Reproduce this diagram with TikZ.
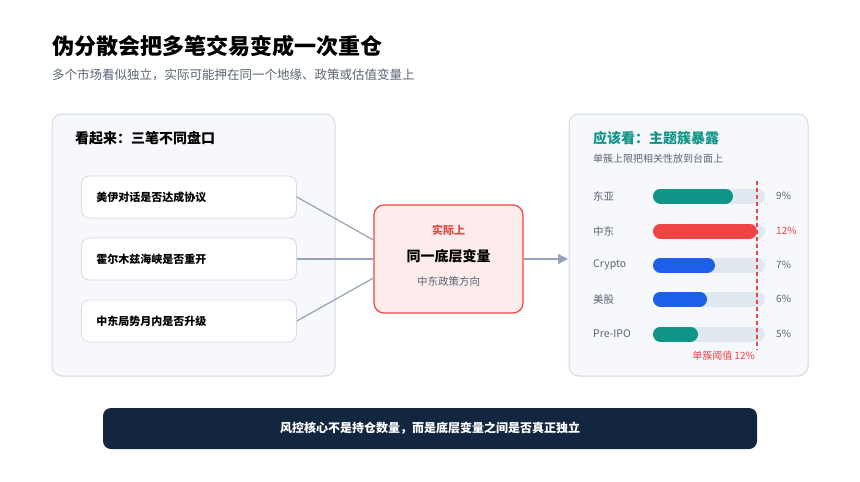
\documentclass[tikz,border=0pt]{standalone}
\usepackage{fontspec}
\setmainfont{Noto Sans CJK SC}
\usetikzlibrary{arrows.meta,positioning,calc}
\definecolor{panelbg}{HTML}{F7F8FC}
\definecolor{panelline}{HTML}{D5DAE3}
\definecolor{linkgray}{HTML}{94A3B8}
\definecolor{alertred}{HTML}{EF4444}
\definecolor{alertbg}{HTML}{FDECEC}
\definecolor{teal}{HTML}{0F9488}
\definecolor{barblue}{HTML}{1D5FE8}
\definecolor{track}{HTML}{E2E8F0}
\definecolor{navy}{HTML}{13263F}
\definecolor{textgray}{HTML}{5B6472}
\tikzstyle{panel} = [draw=panelline, fill=panelbg, rounded corners=10pt, line width=1pt]
\tikzstyle{card} = [draw=panelline, fill=white, rounded corners=8pt, line width=0.8pt, minimum width=215pt, minimum height=42pt, text width=185pt, inner xsep=15pt, align=left, font=\fontsize{11}{13}\selectfont\bfseries]
\tikzstyle{link} = [draw=linkgray, line width=1.2pt]
\tikzstyle{lab} = [anchor=west, font=\fontsize{10.5}{12}\selectfont, text=textgray, inner sep=0pt]
\tikzstyle{pct} = [anchor=west, font=\fontsize{10}{12}\selectfont, text=textgray, inner sep=0pt]
\begin{document}
\begin{tikzpicture}[x=1pt,y=-1pt]
\useasboundingbox (0,0) rectangle (860,482);
\fill[white] (0,0) rectangle (860,482);
% title
\node (title) [anchor=west, inner sep=0pt, font=\fontsize{22}{26}\selectfont\bfseries] at (52,46) {伪分散会把多笔交易变成一次重仓};
\node (sub) [anchor=west, inner sep=0pt, font=\fontsize{12.5}{14}\selectfont, text=textgray] at (52,75) {多个市场看似独立，实际可能押在同一个地缘、政策或估值变量上};
% left panel
\draw[panel] (52,114) rectangle (335,376);
\node (lhead) [anchor=west, inner sep=0pt, font=\fontsize{14}{16}\selectfont\bfseries] at (75,138) {看起来：三笔不同盘口};
\node (c1) [card, anchor=west] at (81,197) {美伊对话是否达成协议};
\node (c2) [card, anchor=west] at (81,259) {霍尔木兹海峡是否重开};
\node (c3) [card, anchor=west] at (81,321) {中东局势月内是否升级};
% center box
\node (core) [draw=alertred, fill=alertbg, rounded corners=10pt, line width=1.2pt, minimum width=149pt, minimum height=108pt] at (448.5,259) {};
\node (k1) [text=alertred, font=\fontsize{11}{13}\selectfont\bfseries] at (448.5,230) {实际上};
\node (k2) [font=\fontsize{14}{16}\selectfont\bfseries] at (448.5,256) {同一底层变量};
\node (k3) [text=textgray, font=\fontsize{10.5}{12}\selectfont] at (448.5,281) {中东政策方向};
\draw[link] (c1.east) -- ($(core.west)+(0,-19)$);
\draw[link] (c2.east) -- (core.west);
\draw[link] (c3.east) -- ($(core.west)+(0,19)$);
% right panel
\draw[panel] (569,114) rectangle (808,376);
\draw[link, -{Triangle[length=10pt,width=10pt]}] (core.east) -- (568,259);
\node (rhead) [anchor=west, inner sep=0pt, text=teal, font=\fontsize{14}{16}\selectfont\bfseries] at (593,138) {应该看：主题簇暴露};
\node (rsub) [anchor=west, inner sep=0pt, text=textgray, font=\fontsize{10}{12}\selectfont] at (593,159) {单簇上限把相关性放到台面上};
\foreach \name/\y/\len/\col/\p/\pc in {东亚/196/80/teal/9\%/textgray, 中东/231/104/alertred/12\%/alertred, Crypto/265/62/barblue/7\%/textgray, 美股/299/54/barblue/6\%/textgray, Pre-IPO/334/45/teal/5\%/textgray}{
  \node[lab] at (593,\y) {\name};
  \draw[track, line width=15pt, line cap=round] (660.5,\y) -- (757.5,\y);
  \draw[\col, line width=15pt, line cap=round] (660.5,\y) -- (653+\len-7.5,\y);
  \node[pct, text=\pc] at (776,\y) {\p};
}
\draw[draw=alertred, dash pattern=on 4pt off 3pt, line width=1.3pt] (757,181) -- (757,350);
\node (thr) [anchor=east, inner sep=0pt, text=alertred, font=\fontsize{10}{11}\selectfont] at (755,356) {单簇阈值 12\%};
% bottom banner
\node (banner) [fill=navy, rounded corners=8pt, minimum width=654pt, minimum height=41pt, text=white, font=\fontsize{12}{14}\selectfont\bfseries] at (430,428.5) {风控核心不是持仓数量，而是底层变量之间是否真正独立};
\end{tikzpicture}
\end{document}
